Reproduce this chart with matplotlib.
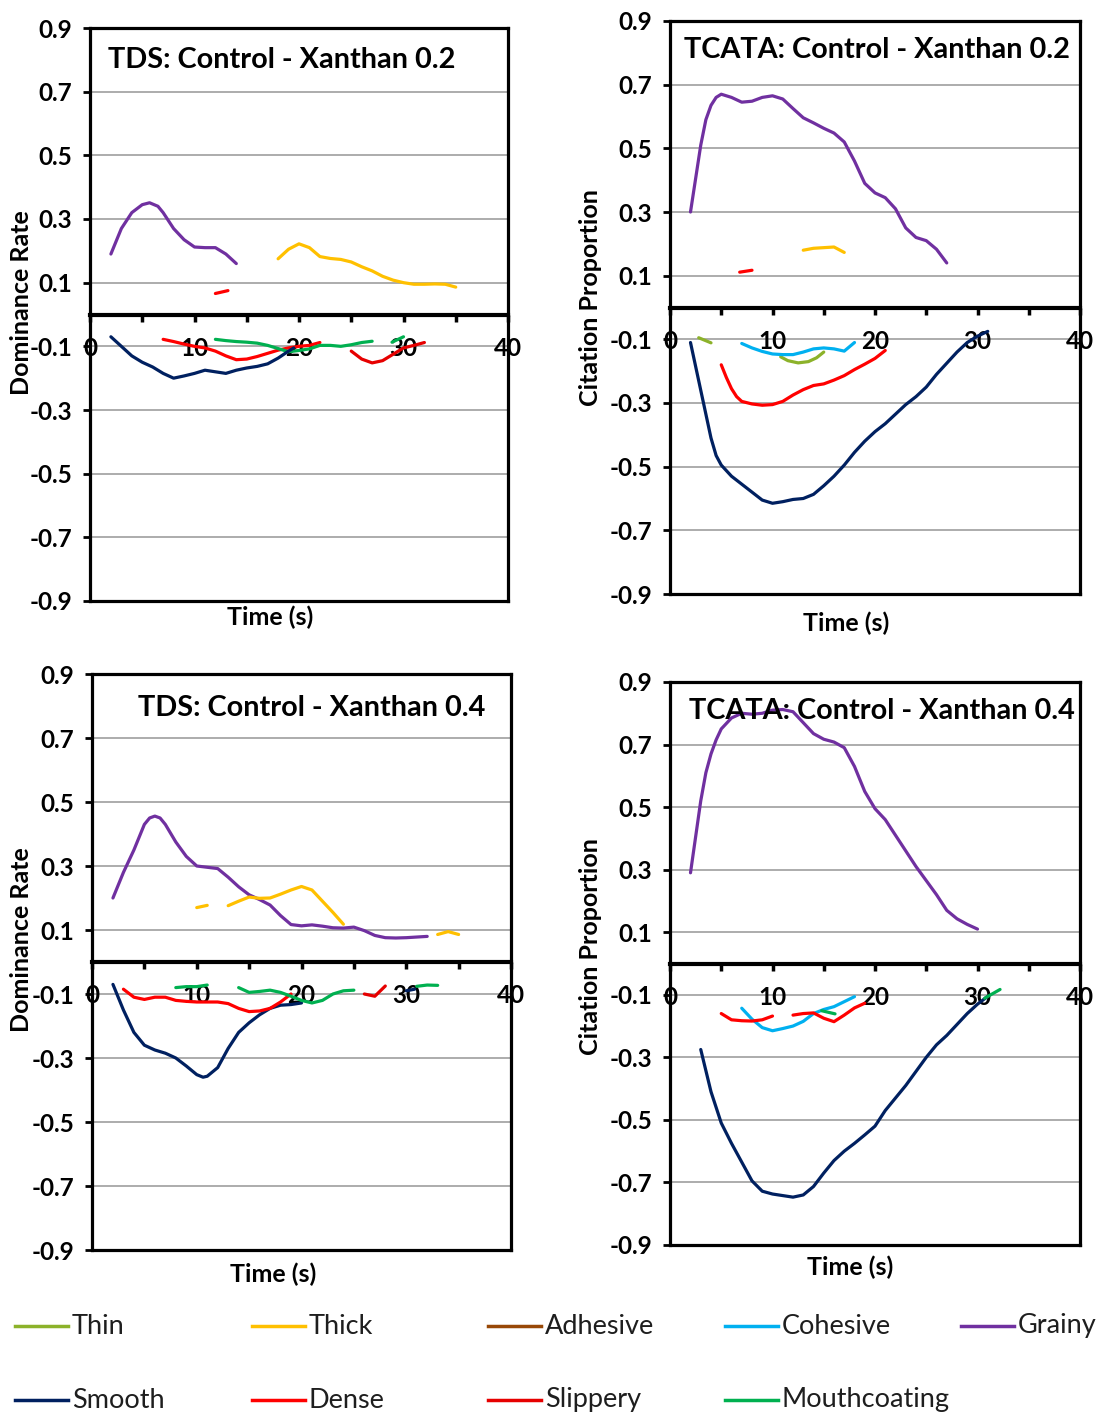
"""TDS / TCATA curves: Control vs Xanthan 0.2 and 0.4 (four panels + shared legend)."""

import numpy as np
import matplotlib

matplotlib.use("Agg")

import matplotlib.pyplot as plt
from matplotlib.lines import Line2D

plt.rcParams["font.family"] = ["Lato", "DejaVu Sans"]

W, H = 1102, 1417
NAN = np.nan

# ---- series colours / names ---------------------------------------------
ATTRIBUTES = ["Thin", "Thick", "Adhesive", "Cohesive", "Grainy",
              "Smooth", "Dense", "Slippery", "Mouthcoating"]
COLORS = ["#8CB22A", "#FFC000", "#984807", "#00B0F0", "#7030A0",
          "#002060", "#FF0000", "#E60000", "#00B050"]

# ---- TDS: Control - Xanthan 0.2 -----------------------------------------
TDS02_GRAINY_T = [2, 3, 4, 5, 5.7, 6.5, 7, 8, 9, 10, 11, 12, 13, 14]
TDS02_GRAINY = [0.19, 0.27, 0.32, 0.345, 0.351, 0.34, 0.32, 0.27, 0.235, 0.212, 0.21, 0.21,
                0.19, 0.16]
TDS02_THICK_T = [18, 19, 20, 21, 22, 23, 24, 25, 26, 27, 28, 29, 30, 31, 32, 33, 34, 35]
TDS02_THICK = [0.175, 0.205, 0.222, 0.21, 0.182, 0.176, 0.173, 0.165, 0.15, 0.137,
               0.12, 0.108, 0.1, 0.095, 0.095, 0.096, 0.095, 0.086]
TDS02_SMOOTH_T = [2, 3, 4, 5, 6, 7, 8, 9, 10, 11, 12, 13, 14, 15, 16, 17, 18, 19, 19.5]
TDS02_SMOOTH = [-0.07, -0.10, -0.13, -0.15, -0.165, -0.185, -0.2, -0.193, -0.185, -0.175,
                -0.18, -0.185, -0.175, -0.168, -0.163, -0.155, -0.137, -0.115, -0.105]
TDS02_DENSE_T = [12, 13.2, NAN, 7, 8, 9, 10, 11, 12, 13, 14, 15, 16, 17, 18, 19, 20, 21, 22]
TDS02_DENSE = [0.066, 0.075, NAN, -0.078, -0.085, -0.093, -0.1, -0.105, -0.115, -0.13, -0.142,
               -0.14, -0.132, -0.122, -0.112, -0.105, -0.1, -0.097, -0.088]
TDS02_SLIPPERY_T = [25, 26, 27, 28, 29, 30, 31, 32]
TDS02_SLIPPERY = [-0.115, -0.14, -0.152, -0.145, -0.125, -0.105, -0.097, -0.088]
TDS02_MOUTH_T = [12, 13, 14, 15, 16, 17, 18, 19, 20, 21, 22, 23, 24, 25, 26, 27, NAN, 28.9, 30]
TDS02_MOUTH = [-0.078, -0.082, -0.085, -0.087, -0.09, -0.097, -0.107, -0.117, -0.113, -0.108,
               -0.097, -0.097, -0.1, -0.095, -0.088, -0.084, NAN, -0.087, -0.07]

# ---- TCATA: Control - Xanthan 0.2 ---------------------------------------
TC02_GRAINY_T = [2, 3, 3.5, 4, 4.5, 5, 6, 7, 8, 9, 10, 11, 12, 13, 14, 15, 16, 17, 18, 19,
                 20, 21, 22, 23, 24, 25, 26, 27]
TC02_GRAINY = [0.30, 0.51, 0.59, 0.635, 0.66, 0.67, 0.66, 0.645, 0.648, 0.66, 0.665, 0.655,
               0.625, 0.596, 0.58, 0.563, 0.548, 0.52, 0.46, 0.39, 0.36, 0.345, 0.31, 0.25,
               0.22, 0.21, 0.183, 0.14]
TC02_THICK_T = [13, 14, 15, 16, 17]
TC02_THICK = [0.18, 0.186, 0.188, 0.19, 0.173]
TC02_THIN_T = [2.8, 4, NAN, 10.8, 11.5, 12.5, 13.5, 14.3, 15]
TC02_THIN = [-0.095, -0.111, NAN, -0.155, -0.167, -0.174, -0.17, -0.158, -0.14]
TC02_COHESIVE_T = [7, 8, 9, 10, 11, 12, 13, 14, 15, 16, 17, 18]
TC02_COHESIVE = [-0.113, -0.127, -0.138, -0.146, -0.148, -0.148, -0.14, -0.13, -0.127, -0.13,
                 -0.137, -0.11]
TC02_DENSE_T = [6.8, 8, NAN, 5, 5.5, 6, 6.5, 7, 8, 9, 10, 11, 12, 13, 14, 15, 16, 17, 18, 19,
                20, 21]
TC02_DENSE = [0.111, 0.117, NAN, -0.18, -0.22, -0.255, -0.28, -0.295, -0.303, -0.307, -0.305,
              -0.295, -0.275, -0.258, -0.245, -0.24, -0.228, -0.214, -0.195, -0.178, -0.16, -0.135]
TC02_SMOOTH_T = [2, 3, 4, 4.5, 5, 6, 7, 8, 9, 10, 11, 12, 13, 14, 15, 16, 17, 18, 19, 20, 21,
                 22, 23, 24, 25, 26, 27, 28, 29, 30, 31]
TC02_SMOOTH = [-0.11, -0.26, -0.41, -0.465, -0.495, -0.53, -0.555, -0.58, -0.605, -0.615,
               -0.61, -0.603, -0.6, -0.587, -0.56, -0.53, -0.495, -0.455, -0.42, -0.39, -0.365,
               -0.335, -0.305, -0.28, -0.25, -0.21, -0.175, -0.14, -0.11, -0.09, -0.075]

# ---- TDS: Control - Xanthan 0.4 -----------------------------------------
TDS04_GRAINY_T = [2, 3, 4, 5, 5.5, 6, 6.5, 7, 8, 9, 10, 11, 12, 13, 14, 15, 16, 17, 18, 19,
                  20, 21, 22, 23, 24, 25, 26, 27, 28, 29, 30, 31, 32]
TDS04_GRAINY = [0.2, 0.28, 0.35, 0.43, 0.45, 0.456, 0.45, 0.43, 0.375, 0.33, 0.3, 0.296,
                0.292, 0.265, 0.235, 0.21, 0.195, 0.178, 0.145, 0.117, 0.113, 0.116, 0.112,
                0.107, 0.106, 0.109, 0.098, 0.083, 0.076, 0.075, 0.076, 0.078, 0.08]
TDS04_THICK_T = [10, 11, NAN, 13, 14, 15, 16, 17, 18, 19, 20, 21, 22, 23, 24, NAN, 33, 34, 35]
TDS04_THICK = [0.17, 0.177, NAN, 0.176, 0.19, 0.203, 0.199, 0.2, 0.212, 0.225, 0.236, 0.225,
               0.19, 0.155, 0.118, NAN, 0.086, 0.095, 0.086]
TDS04_SMOOTH_T = [2, 3, 4, 5, 6, 7, 8, 9, 10, 10.6, 11, 12, 13, 14, 15, 16, 17, 18, 19, 20,
                  NAN, 30, 30.8]
TDS04_SMOOTH = [-0.07, -0.15, -0.22, -0.26, -0.275, -0.285, -0.3, -0.325, -0.352, -0.36,
                -0.357, -0.33, -0.27, -0.22, -0.19, -0.165, -0.145, -0.135, -0.133, -0.128,
                NAN, -0.09, -0.085]
TDS04_DENSE_T = [3, 4, 5, 6, 7, 8, 9, 10, 11, 12, 13, 14, 15, 16, 17, 18, 19]
TDS04_DENSE = [-0.085, -0.11, -0.117, -0.11, -0.11, -0.12, -0.123, -0.125, -0.125, -0.125,
               -0.13, -0.145, -0.155, -0.153, -0.145, -0.125, -0.1]
TDS04_SLIPPERY_T = [26, 27, 28]
TDS04_SLIPPERY = [-0.1, -0.107, -0.075]
TDS04_MOUTH_T = [8, 9, 10, 11, NAN, 14, 15, 16, 17, 18, 19, 20, 21, 22, 23, 24, 25, NAN, 31, 32, 33]
TDS04_MOUTH = [-0.08, -0.077, -0.077, -0.072, NAN, -0.08, -0.095, -0.092, -0.088, -0.095, -0.107,
               -0.12, -0.128, -0.12, -0.1, -0.09, -0.088, NAN, -0.076, -0.072, -0.073]

# ---- TCATA: Control - Xanthan 0.4 ---------------------------------------
TC04_GRAINY_T = [2, 3, 3.5, 4, 4.5, 5, 6, 7, 8, 9, 10, 11, 12, 13, 14, 15, 16, 17, 18, 19,
                 20, 21, 22, 23, 24, 25, 26, 27, 28, 29, 30]
TC04_GRAINY = [0.29, 0.52, 0.61, 0.67, 0.715, 0.75, 0.785, 0.8, 0.797, 0.8, 0.81, 0.812,
               0.805, 0.77, 0.735, 0.717, 0.708, 0.69, 0.63, 0.55, 0.495, 0.46, 0.41, 0.36,
               0.31, 0.265, 0.22, 0.17, 0.143, 0.125, 0.11]
TC04_SMOOTH_T = list(range(3, 32))
TC04_SMOOTH = [-0.275, -0.41, -0.51, -0.575, -0.635, -0.695, -0.728, -0.737, -0.742, -0.747,
               -0.74, -0.713, -0.67, -0.63, -0.6, -0.575, -0.548, -0.52, -0.47, -0.43, -0.39,
               -0.345, -0.3, -0.26, -0.23, -0.195, -0.16, -0.13, -0.105]
TC04_DENSE_T = [5, 6, 7, 8, 9, 10, NAN, 12, 13, 14, 15, 16, 17, 18, 19]
TC04_DENSE = [-0.16, -0.18, -0.183, -0.184, -0.18, -0.168, NAN, -0.165, -0.16, -0.158, -0.175,
              -0.186, -0.165, -0.142, -0.127]
TC04_COHESIVE_T = [7, 8, 9, 10, 11, 12, 13, 14, 15, 16, 17, 18]
TC04_COHESIVE = [-0.143, -0.178, -0.205, -0.215, -0.208, -0.2, -0.185, -0.16, -0.147, -0.138,
                 -0.122, -0.106]
TC04_MOUTH_T = [14.8, 16.1, NAN, 30.7, 32.2]
TC04_MOUTH = [-0.151, -0.161, NAN, -0.111, -0.083]

Y_TICKS = [-0.9, -0.7, -0.5, -0.3, -0.1, 0.1, 0.3, 0.5, 0.7, 0.9]
X_TICKS = [0, 10, 20, 30, 40]


def px_rect(left, top, right, bottom):
    return [left / W, 1 - bottom / H, (right - left) / W, (bottom - top) / H]


PANELS = [
    {"rect": px_rect(90, 28, 508, 601), "title": "TDS: Control - Xanthan 0.2", "title_xy": (0.043, 0.944),
     "series": [("Grainy", TDS02_GRAINY_T, TDS02_GRAINY), ("Thick", TDS02_THICK_T, TDS02_THICK),
                ("Dense", TDS02_DENSE_T, TDS02_DENSE), ("Mouthcoating", TDS02_MOUTH_T, TDS02_MOUTH),
                ("Slippery", TDS02_SLIPPERY_T, TDS02_SLIPPERY), ("Smooth", TDS02_SMOOTH_T, TDS02_SMOOTH)]},
    {"rect": px_rect(670, 21, 1080, 594), "title": "TCATA: Control - Xanthan 0.2", "title_xy": (0.034, 0.949),
     "series": [("Grainy", TC02_GRAINY_T, TC02_GRAINY), ("Thick", TC02_THICK_T, TC02_THICK),
                ("Thin", TC02_THIN_T, TC02_THIN), ("Cohesive", TC02_COHESIVE_T, TC02_COHESIVE),
                ("Dense", TC02_DENSE_T, TC02_DENSE), ("Smooth", TC02_SMOOTH_T, TC02_SMOOTH)]},
    {"rect": px_rect(92, 674, 511, 1250), "title": "TDS: Control - Xanthan 0.4", "title_xy": (0.11, 0.941),
     "series": [("Grainy", TDS04_GRAINY_T, TDS04_GRAINY), ("Thick", TDS04_THICK_T, TDS04_THICK),
                ("Smooth", TDS04_SMOOTH_T, TDS04_SMOOTH), ("Dense", TDS04_DENSE_T, TDS04_DENSE),
                ("Slippery", TDS04_SLIPPERY_T, TDS04_SLIPPERY), ("Mouthcoating", TDS04_MOUTH_T, TDS04_MOUTH)]},
    {"rect": px_rect(670, 682, 1080, 1245), "title": "TCATA: Control - Xanthan 0.4", "title_xy": (0.046, 0.948),
     "series": [("Grainy", TC04_GRAINY_T, TC04_GRAINY), ("Smooth", TC04_SMOOTH_T, TC04_SMOOTH),
                ("Cohesive", TC04_COHESIVE_T, TC04_COHESIVE), ("Dense", TC04_DENSE_T, TC04_DENSE),
                ("Mouthcoating", TC04_MOUTH_T, TC04_MOUTH)]},
]

YLABELS = [("Dominance Rate", 22, 303), ("Citation Proportion", 590, 298),
           ("Dominance Rate", 22, 940), ("Citation Proportion", 590, 947)]
XLABELS = [(270, 617), (846, 623), (273, 1274), (850, 1267)]


def draw_panel(fig, panel):
    ax = fig.add_axes(panel["rect"])
    color_of = dict(zip(ATTRIBUTES, COLORS))
    for name, t, v in panel["series"]:
        ax.plot(t, v, color=color_of[name], lw=2.3, solid_capstyle="round",
                solid_joinstyle="round")

    ax.set_xlim(0, 40)
    ax.set_ylim(-0.9, 0.9)
    ax.set_yticks(Y_TICKS)
    ax.set_yticklabels([f"{y:.1f}" for y in Y_TICKS])
    ax.set_xticks(X_TICKS)
    ax.set_xticks([5, 15, 25, 35], minor=True)
    ax.set_xticklabels([str(x) for x in X_TICKS])

    for y in Y_TICKS[1:-1]:
        ax.axhline(y, color="#A6A6A6", lw=1.3, zorder=0)

    for side in ("top", "left", "right"):
        ax.spines[side].set_linewidth(2.3)
    ax.spines["bottom"].set_position(("data", 0))
    ax.spines["bottom"].set_linewidth(3.0)
    ax.axhline(-0.9, color="black", lw=2.3, clip_on=False)

    ax.tick_params(axis="y", direction="out", length=5, width=2, pad=8, labelsize=17.5)
    ax.tick_params(axis="x", which="both", direction="out", length=5, width=2.5, pad=11,
                   labelsize=17.5)
    for lab in ax.get_xticklabels() + ax.get_yticklabels():
        lab.set_fontweight("bold")

    tx, ty = panel["title_xy"]
    ax.text(tx, ty, panel["title"], transform=ax.transAxes, fontsize=20.8, fontweight="bold",
            ha="left", va="center", zorder=5)
    return ax


def draw_legend(fig):
    for i, (name, color) in enumerate(zip(ATTRIBUTES, COLORS)):
        row, col = divmod(i, 5)
        x0 = 15 + col * 236.5
        y = 1326 + row * 74
        fig.add_artist(Line2D([x0 / W, (x0 + 53) / W], [1 - y / H, 1 - y / H],
                              color=color, lw=2.5, transform=fig.transFigure))
        fig.text((x0 + 57) / W, 1 - y / H, name, fontsize=19.5, color="#1E1E1E",
                 family=["Liberation Sans Narrow", "Lato"], ha="left", va="center")


def main() -> None:
    fig = plt.figure(figsize=(W / 100, H / 100), dpi=100)
    for panel in PANELS:
        draw_panel(fig, panel)

    for text, x, y in YLABELS:
        fig.text(x / W, 1 - y / H, text, rotation=90, fontsize=18, fontweight="bold",
                 ha="center", va="center")
    for x, y in XLABELS:
        fig.text(x / W, 1 - y / H, "Time (s)", fontsize=18, fontweight="bold",
                 ha="center", va="center")

    draw_legend(fig)
    fig.savefig("out.png", dpi=100)
    plt.close(fig)


if __name__ == "__main__":
    main()
